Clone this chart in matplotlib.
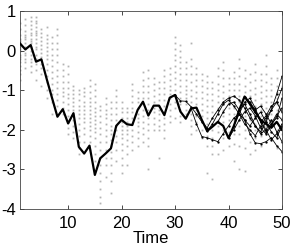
import matplotlib
matplotlib.use("Agg")
import matplotlib.pyplot as plt
import numpy as np

plt.rcParams["font.family"] = ["Liberation Sans", "DejaVu Sans"]
plt.rcParams["axes.unicode_minus"] = False

# time axis
time = list(range(1, 51))

# main (thick) trajectory
main_line = [0.18, 0.03, 0.14, -0.28, -0.22, -0.72, -1.2, -1.67, -1.48, -1.84,
             -1.58, -2.43, -2.6, -2.40, -3.14, -2.72, -2.6, -2.47, -1.9, -1.75,
             -1.86, -1.88, -1.50, -1.29, -1.64, -1.39, -1.39, -1.63, -1.19, -1.12,
             -1.54, -1.72, -1.46, -1.44, -1.75, -2.03, -1.92, -1.80, -1.90, -2.21,
             -1.9, -1.5, -1.16, -1.35, -1.55, -1.75, -1.85, -1.95, -1.8, -2.0]

# thin branching trajectories: (start time, values)
branch_starts = [30, 33, 36, 38, 40, 41, 42, 43, 44, 45]
branch_values = [
    [-1.12, -1.27, -1.28, -1.42, -1.6, -1.8, -1.95, -1.7, -1.5, -1.3, -1.2,
     -1.15, -1.25, -1.45, -1.7, -1.9, -2.05, -1.8, -1.5, -1.1, -0.65],
    [-1.46, -1.85, -2.17, -2.2, -2.25, -2.3, -2.1, -1.9, -1.7, -1.6, -1.75,
     -2.1, -2.33, -2.35, -2.3, -2.2, -2.4, -2.55],
    [-2.03, -1.85, -1.6, -1.35, -1.25, -1.4, -1.6, -1.85, -2.0, -2.15, -1.9,
     -1.7, -1.5, -1.3, -0.95],
    [-1.80, -1.55, -1.35, -1.3, -1.5, -1.75, -1.9, -1.7, -1.55, -1.8, -2.05,
     -2.2, -1.9],
    [-2.21, -2.0, -1.75, -1.55, -1.45, -1.65, -1.95, -2.1, -1.9, -1.65, -1.45],
    [-1.9, -1.6, -1.3, -1.2, -1.45, -1.8, -2.05, -1.85, -1.6, -1.75],
    [-1.5, -1.35, -1.6, -1.9, -2.1, -2.0, -1.75, -2.05, -2.3],
    [-1.16, -1.3, -1.5, -1.4, -1.6, -1.85, -1.7, -1.2],
    [-1.35, -1.55, -1.8, -1.65, -1.4, -1.3, -1.55],
    [-1.55, -1.75, -2.0, -2.25, -2.1, -1.85],
]

# gray sample dots, one column per time step
dot_columns = [
    [0.7, 0.55, 0.4, 0.3, 0.25, 0.2, 0.15, 0.1, 0.05, 0.0, -0.1, -0.15, -0.2, -0.3, -0.4, -0.5, -0.6, -0.75],
    [0.8, 0.65, 0.5, 0.4, 0.35, 0.3, 0.2, 0.1, 0.05, -0.05, -0.1, -0.2, -0.3, -0.45],
    [0.85, 0.75, 0.65, 0.55, 0.45, 0.4, 0.3, 0.25, 0.2, 0.1, 0.0, -0.1, -0.2, -0.3, -0.4, -0.55],
    [0.85, 0.75, 0.7, 0.6, 0.5, 0.45, 0.4, 0.3, 0.2, 0.1, 0.05, -0.1, -0.2, -0.35, -0.5, -0.75],
    [0.55, 0.45, 0.35, 0.25, 0.15, 0.05, -0.05, -0.15, -0.25, -0.35, -0.45, -0.6, -0.9],
    [0.6, 0.4, 0.3, 0.2, 0.1, 0.0, -0.1, -0.2, -0.35, -0.5, -0.65, -0.8, -1.0, -1.2],
    [0.35, 0.2, 0.05, -0.1, -0.25, -0.4, -0.55, -0.7, -0.85, -1.0, -1.1, -1.3, -1.6],
    [0.55, 0.4, 0.2, 0.05, -0.1, -0.3, -0.5, -0.65, -0.8, -0.95, -1.1, -1.25, -1.4],
    [-0.35, -0.5, -0.65, -0.8, -0.95, -1.05, -1.15, -1.3, -1.45, -1.6],
    [-0.4, -0.6, -0.8, -0.95, -1.1, -1.2, -1.35, -1.5, -1.65, -1.8, -1.95, -2.1],
    [-0.9, -1.0, -1.1, -1.2, -1.3, -1.4, -1.5, -1.6, -1.75, -1.9, -2.05, -2.2],
    [-1.0, -1.1, -1.25, -1.4, -1.5, -1.6, -1.7, -1.85, -2.0, -2.15, -2.3, -2.45, -2.6],
    [-0.95, -1.05, -1.15, -1.3, -1.4, -1.5, -1.6, -1.7, -1.8, -1.95, -2.1, -2.3],
    [-0.75, -0.9, -1.05, -1.2, -1.3, -1.4, -1.5, -1.6, -1.7, -1.8, -1.9, -2.0, -2.15, -2.3, -2.5],
    [-0.85, -1.0, -1.15, -1.3, -1.45, -1.55, -1.65, -1.75, -1.85, -1.95, -2.05, -2.2, -2.4, -2.6, -2.8],
    [-1.4, -1.5, -1.65, -1.8, -1.95, -2.1, -2.3, -2.5, -2.7, -2.9, -3.1, -3.3, -3.5, -3.7, -3.85],
    [-1.2, -1.35, -1.5, -1.6, -1.7, -1.85, -2.0, -2.15, -2.3, -2.5, -2.7, -2.9, -3.2],
    [-1.3, -1.45, -1.6, -1.75, -1.9, -2.0, -2.1, -2.25, -2.4, -2.55, -2.7, -2.9, -3.1, -3.3, -3.6],
    [-1.0, -1.15, -1.3, -1.45, -1.6, -1.75, -1.9, -2.0, -2.15, -2.3, -2.5, -2.8],
    [-1.3, -1.45, -1.55, -1.7, -1.8, -1.9, -2.0, -2.1, -2.2, -2.35, -2.5, -2.7, -2.9, -3.1],
    [-1.45, -1.55, -1.7, -1.8, -1.9, -2.0, -2.1, -2.25, -2.4, -2.6, -2.9],
    [-0.85, -1.0, -1.15, -1.3, -1.45, -1.55, -1.7, -1.85, -2.0, -2.15, -2.3, -2.5],
    [-1.05, -1.2, -1.3, -1.45, -1.6, -1.7, -1.8, -1.9, -2.05, -2.2, -2.4],
    [-0.55, -0.75, -0.9, -1.05, -1.2, -1.35, -1.5, -1.65, -1.8, -1.95, -2.1, -2.3],
    [-0.5, -0.7, -0.9, -1.05, -1.2, -1.35, -1.5, -1.6, -1.7, -1.85, -2.0, -2.2, -2.4, -3.0],
    [-0.7, -0.85, -1.0, -1.15, -1.3, -1.45, -1.55, -1.7, -1.85, -2.0],
    [-0.8, -0.95, -1.1, -1.25, -1.4, -1.5, -1.6, -1.75, -1.9, -2.0, -2.7],
    [-0.5, -0.65, -0.8, -0.95, -1.1, -1.25, -1.4, -1.55, -1.7, -1.85, -2.0, -2.2],
    [-0.45, -0.6, -0.75, -0.9, -1.0, -1.1, -1.2, -1.35, -1.5, -1.65, -1.8],
    [0.98, 0.35, 0.2, 0.05, -0.1, -0.25, -0.4, -0.55, -0.7, -0.85, -1.0, -1.15, -1.3, -1.45, -1.7],
    [0.15, 0.0, -0.15, -0.3, -0.45, -0.6, -0.75, -0.9, -1.05, -1.2, -1.35, -1.5, -1.65, -1.8],
    [-0.3, -0.45, -0.6, -0.75, -0.9, -1.0, -1.1, -1.2, -1.35, -1.5, -1.6],
    [0.2, -0.2, -0.4, -0.6, -0.8, -1.0, -1.15, -1.3, -1.45, -1.6, -1.75, -1.9, -2.1],
    [-0.45, -0.6, -0.75, -0.9, -1.05, -1.2, -1.35, -1.5, -1.65, -1.8, -2.0],
    [-0.6, -0.75, -0.9, -1.05, -1.2, -1.35, -1.5, -1.65, -1.8, -2.0, -2.2],
    [-0.65, -0.8, -0.95, -1.1, -1.25, -1.4, -1.55, -1.7, -1.85, -2.0, -2.15, -2.4, -3.1],
    [-0.8, -0.95, -1.1, -1.25, -1.4, -1.55, -1.7, -1.85, -2.0, -2.2, -2.4, -2.6, -3.25],
    [-0.45, -0.65, -0.85, -1.0, -1.15, -1.3, -1.45, -1.6, -1.75, -1.9, -2.05, -2.3, -2.6],
    [-0.3, -0.5, -0.7, -0.9, -1.05, -1.2, -1.35, -1.5, -1.65, -1.8, -2.0, -2.2, -2.5],
    [-0.7, -0.85, -1.0, -1.15, -1.3, -1.45, -1.6, -1.75, -1.9, -2.05, -2.2, -2.4],
    [-0.55, -0.7, -0.85, -1.0, -1.15, -1.3, -1.45, -1.6, -1.75, -1.9, -2.1, -2.35, -2.8],
    [-0.2, -0.45, -0.65, -0.85, -1.0, -1.15, -1.3, -1.45, -1.6, -1.75, -1.9, -2.1, -2.4, -3.0],
    [-0.5, -0.7, -0.9, -1.05, -1.2, -1.35, -1.5, -1.65, -1.8, -2.0, -2.2, -2.45, -3.05],
    [-0.6, -0.8, -1.0, -1.15, -1.3, -1.45, -1.6, -1.75, -1.9, -2.1, -2.3, -2.6],
    [-0.35, -0.55, -0.75, -0.95, -1.1, -1.25, -1.4, -1.55, -1.7, -1.85, -2.0, -2.2, -2.5],
    [-0.6, -0.75, -0.9, -1.05, -1.2, -1.35, -1.5, -1.65, -1.8, -1.95, -2.15, -2.4],
    [-0.1, -0.4, -0.6, -0.8, -1.0, -1.15, -1.3, -1.45, -1.6, -1.75, -1.9, -2.1, -2.3],
    [-0.7, -0.85, -1.0, -1.15, -1.3, -1.45, -1.6, -1.75, -1.9, -2.05, -2.25],
    [-0.5, -0.7, -0.9, -1.05, -1.2, -1.35, -1.5, -1.65, -1.8, -2.0, -2.2, -2.45],
    [-0.7, -0.9, -1.1, -1.3, -1.5, -1.7, -1.9, -2.1, -2.3],
]

x_ticks = [10, 20, 30, 40, 50]
y_ticks = [1, 0, -1, -2, -3, -4]

fig = plt.figure(figsize=(2.93, 2.45), dpi=100)
ax = fig.add_axes([20/293, 36/245, 262/293, 198/245])

# gray samples
for t, col in zip(time, dot_columns):
    ax.plot([t]*len(col), col, linestyle="", marker="s", markersize=1.3,
            markeredgewidth=0, color="#b3b3b3", zorder=1)

# thin branches
for start, vals in zip(branch_starts, branch_values):
    ts = list(range(start, start + len(vals)))
    ax.plot(ts, vals, color="black", linewidth=0.6, marker="o",
            markersize=1.6, markeredgewidth=0, zorder=2)

# main trajectory
ax.plot(time, main_line, color="black", linewidth=1.6, zorder=3)

ax.set_xlim(1, 50)
ax.set_ylim(-4, 1)
ax.set_xticks(x_ticks)
ax.set_yticks(y_ticks)
ax.tick_params(direction="in", length=3, width=0.5, top=True, right=True,
               labelsize=12, pad=3, colors="black")
ax.tick_params(axis="x", pad=5)
for s in ax.spines.values():
    s.set_linewidth(0.6)
    s.set_color("#444444")
ax.set_xlabel("Time", fontsize=12, labelpad=0)

fig.savefig("out.png", dpi=100)
